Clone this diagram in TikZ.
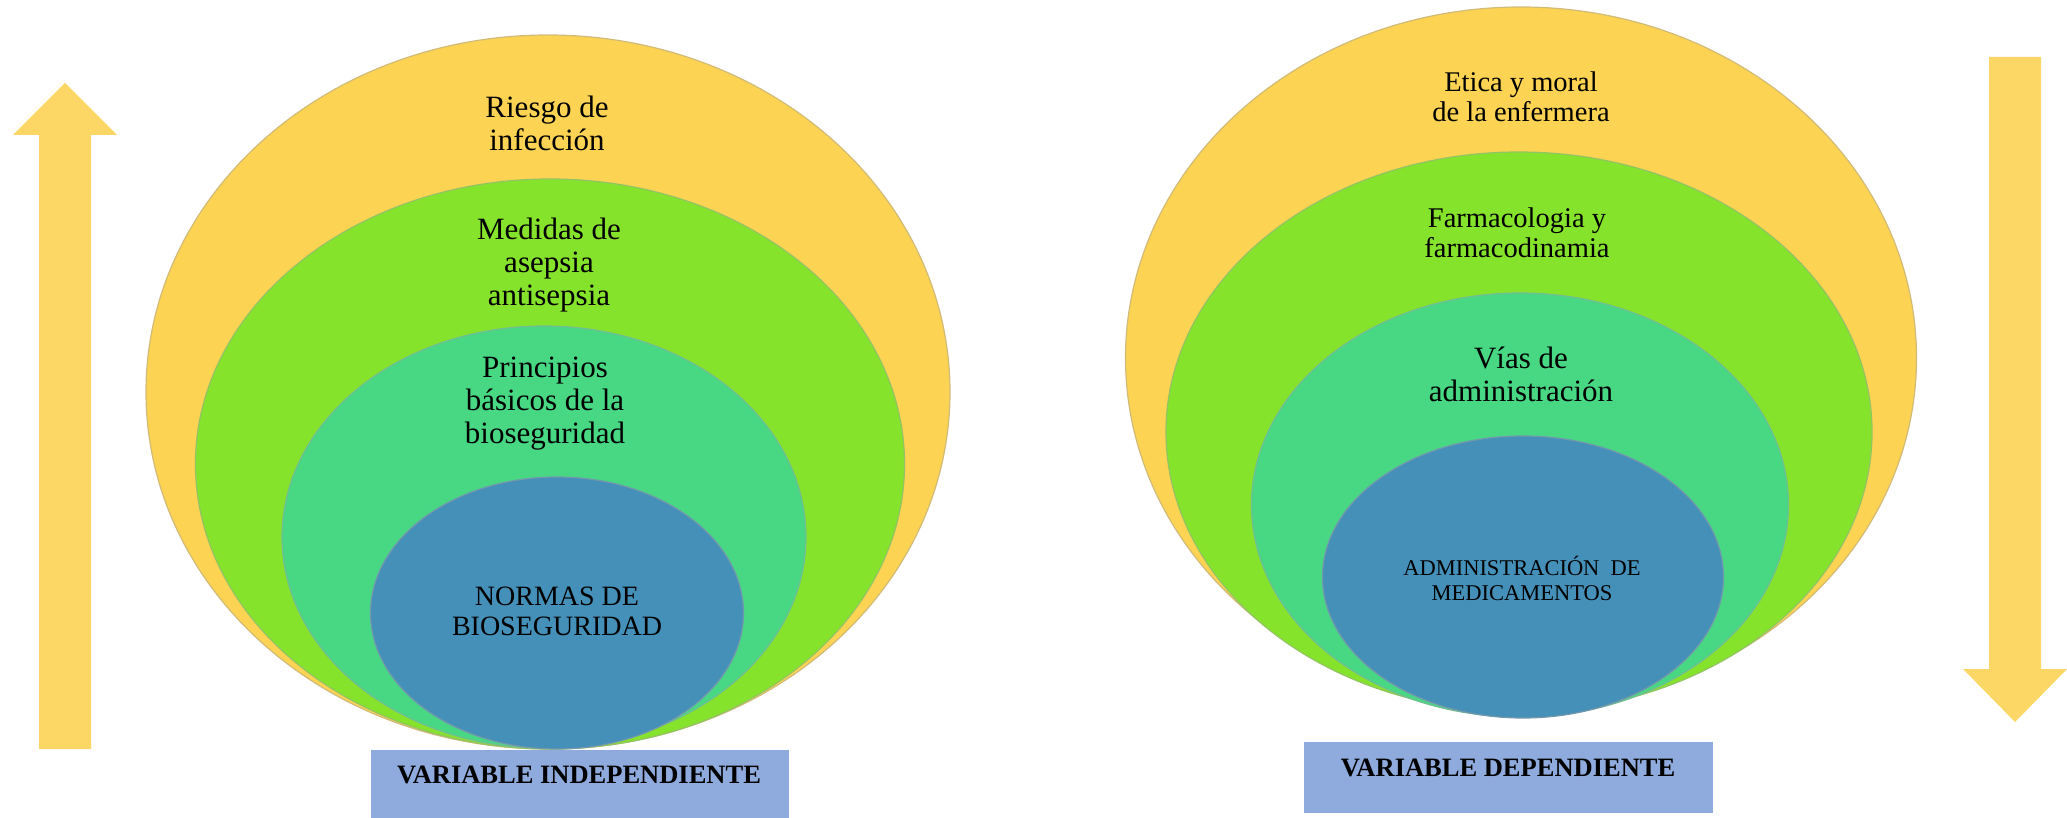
\documentclass[tikz,border=0pt]{standalone}
\usepackage{fontspec}
\setmainfont{Liberation Serif}
\usetikzlibrary{shapes.geometric}
\definecolor{arrowyel}{RGB}{253,215,102}
\definecolor{ellyel}{RGB}{252,211,82}
\definecolor{ellgreen}{RGB}{134,227,44}
\definecolor{ellteal}{RGB}{72,216,132}
\definecolor{ellblue}{RGB}{69,144,184}
\definecolor{boxblue}{RGB}{143,170,220}
\tikzset{
  layer/.style={ellipse, inner sep=0pt, line width=1.2pt},
  yel/.style={layer, fill=ellyel, draw=ellyel!75!black!70},
  grn/.style={layer, fill=ellgreen, draw=ellgreen!75!black!70},
  tea/.style={layer, fill=ellteal, draw=ellteal!75!black!70},
  blu/.style={layer, fill=ellblue, draw=ellblue!75!black!70},
  lbl/.style={inner sep=0pt, align=center, text=black},
  varbox/.style={fill=boxblue, draw=none, inner sep=0pt},
  bigarrow/.style={fill=arrowyel, draw=none}
}
\begin{document}
\begin{tikzpicture}[x=1pt,y=-1pt]
\useasboundingbox (0,0) rectangle (2067,818);
% arrows
\fill[bigarrow] (39,749) -- (39,135) -- (13,135) -- (65,83) -- (117,135) -- (91,135) -- (91,749) -- cycle;
\fill[bigarrow] (1989,57) -- (1989,669) -- (1963,669) -- (2015,722) -- (2067,669) -- (2041,669) -- (2041,57) -- cycle;
% left diagram
\node[yel, minimum width=804pt, minimum height=714pt] (ly) at (548,392) {};
\node[grn, minimum width=709pt, minimum height=570pt] (lg) at (550,464) {};
\node[tea, minimum width=524pt, minimum height=422pt] (lt) at (544,537) {};
\node[blu, minimum width=373pt, minimum height=272pt] (lb) at (557,613) {};
\node[lbl, font=\fontsize{31}{33}\selectfont] (t1) at (547,123) {Riesgo de\\infección};
\node[lbl, font=\fontsize{31}{33}\selectfont] (t2) at (549,265) {Medidas de\\asepsia\\antisepsia};
\node[lbl, font=\fontsize{31}{33}\selectfont] (t3) at (545,404) {Principios\\básicos de la\\bioseguridad};
\node[lbl, font=\fontsize{28}{30}\selectfont] (t4) at (557,611) {NORMAS DE\\BIOSEGURIDAD};
\path[varbox] (371,750) rectangle (789,818);
\node[lbl, font=\fontsize{26.5}{28}\selectfont\bfseries] (v1) at (579,775) {VARIABLE INDEPENDIENTE};
% right diagram
\node[yel, minimum width=791pt, minimum height=702pt] (ry) at (1521,358) {};
\node[grn, minimum width=706pt, minimum height=560pt] (rg) at (1519,432) {};
\node[tea, minimum width=537pt, minimum height=424pt] (rt) at (1520,505) {};
\node[blu, minimum width=401pt, minimum height=282pt] (rb) at (1523,577) {};
\node[lbl, font=\fontsize{28.5}{30}\selectfont] (s1) at (1521,97) {Etica y moral\\de la enfermera};
\node[lbl, font=\fontsize{28.5}{30}\selectfont] (s2) at (1517,233) {Farmacologia y\\farmacodinamia};
\node[lbl, font=\fontsize{31}{33}\selectfont] (s3) at (1521,374) {Vías de\\administración};
\node[lbl, font=\fontsize{22.5}{25}\selectfont] (s4) at (1522,578) {ADMINISTRACIÓN\ \ DE\\MEDICAMENTOS};
\path[varbox] (1304,742) rectangle (1713,813);
\node[lbl, font=\fontsize{26.5}{28}\selectfont\bfseries] (v2) at (1508,768) {VARIABLE DEPENDIENTE};
\end{tikzpicture}
\end{document}
